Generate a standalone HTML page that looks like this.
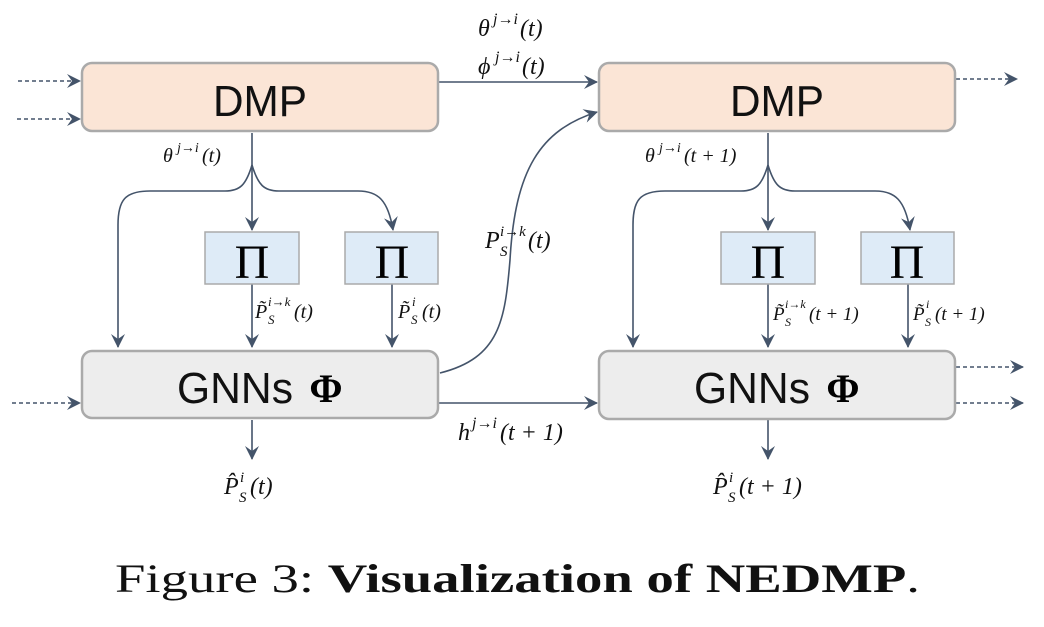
<!DOCTYPE html>
<html><head><meta charset="utf-8"><style>
body{margin:0;background:#fff;}
svg text{font-family:"Liberation Serif",serif;}
.m{font-style:italic;fill:#111;}
.b{font-family:"Liberation Sans",sans-serif !important;font-size:44px;fill:#111;}
</style></head><body>
<svg width="1044" height="622" viewBox="0 0 1044 622" xmlns="http://www.w3.org/2000/svg">
<defs>
<marker id="a" viewBox="0 0 14 14" refX="13" refY="7" markerWidth="14" markerHeight="14" markerUnits="userSpaceOnUse" orient="auto"><path d="M0,0 L14,7 L0,14 L5,7 Z" fill="#44546a"/></marker>
</defs>
<g stroke="#44546a" stroke-width="1.6" fill="none">
<line x1="18" y1="81" x2="80" y2="81" stroke-dasharray="4,3" marker-end="url(#a)"/>
<line x1="17" y1="119" x2="80" y2="119" stroke-dasharray="4,3" marker-end="url(#a)"/>
<line x1="12" y1="403" x2="80" y2="403" stroke-dasharray="4,3" marker-end="url(#a)"/>
<line x1="956" y1="79" x2="1017" y2="79" stroke-dasharray="4,3" marker-end="url(#a)"/>
<line x1="956" y1="367" x2="1023" y2="367" stroke-dasharray="4,3" marker-end="url(#a)"/>
<line x1="956" y1="403" x2="1023" y2="403" stroke-dasharray="4,3" marker-end="url(#a)"/>
<line x1="439" y1="82" x2="597" y2="82" marker-end="url(#a)"/>
<line x1="439" y1="403" x2="597" y2="403" marker-end="url(#a)"/>
<path d="M440,373 C500,358 505,320 510,260 C515,170 540,130 597,112" marker-end="url(#a)"/>
<line x1="252" y1="133" x2="252" y2="230" marker-end="url(#a)"/>
<path d="M252,165 C246,185 240,191 225,191 L150,191 C125,191 118,200 118,225 L118,347" marker-end="url(#a)"/>
<path d="M252,165 C258,185 264,191 279,191 L358,191 C378,191 388,200 393,230" marker-end="url(#a)"/>
<line x1="252" y1="284" x2="252" y2="347" marker-end="url(#a)"/>
<line x1="392" y1="284" x2="392" y2="347" marker-end="url(#a)"/>
<line x1="252" y1="420" x2="252" y2="459" marker-end="url(#a)"/>
<line x1="768" y1="133" x2="768" y2="230" marker-end="url(#a)"/>
<path d="M768,165 C762,185 756,191 741,191 L665,191 C640,191 633,200 633,225 L633,347" marker-end="url(#a)"/>
<path d="M768,165 C774,185 780,191 795,191 L875,191 C895,191 905,200 910,230" marker-end="url(#a)"/>
<line x1="768" y1="284" x2="768" y2="347" marker-end="url(#a)"/>
<line x1="908" y1="284" x2="908" y2="347" marker-end="url(#a)"/>
<line x1="768" y1="420" x2="768" y2="459" marker-end="url(#a)"/>
</g>
<g stroke="#aaa" stroke-width="2.5">
<rect x="82" y="63" width="356" height="68" rx="10" fill="#fbe5d6"/>
<rect x="599" y="63" width="356" height="68" rx="10" fill="#fbe5d6"/>
<rect x="82" y="351" width="356" height="67" rx="10" fill="#ededed"/>
<rect x="599" y="351" width="356" height="68" rx="10" fill="#ededed"/>
</g>
<g stroke="#aaa" stroke-width="1.5" fill="#deebf7">
<rect x="205" y="232" width="94" height="52"/>
<rect x="345" y="232" width="93" height="52"/>
<rect x="721" y="232" width="94" height="52"/>
<rect x="861" y="232" width="93" height="52"/>
</g>
<text class="b" x="213" y="116" textLength="94" lengthAdjust="spacingAndGlyphs">DMP</text>
<text class="b" x="730" y="116" textLength="94" lengthAdjust="spacingAndGlyphs">DMP</text>
<text class="b" x="177" y="403" textLength="116" lengthAdjust="spacingAndGlyphs">GNNs</text>
<text x="326" y="402" text-anchor="middle" font-size="40" font-weight="bold">Φ</text>
<text class="b" x="694" y="403" textLength="116" lengthAdjust="spacingAndGlyphs">GNNs</text>
<text x="843" y="402" text-anchor="middle" font-size="40" font-weight="bold">Φ</text>
<g font-size="48" text-anchor="middle"><text x="252" y="278">Π</text><text x="392" y="278">Π</text><text x="768" y="278">Π</text><text x="907" y="278">Π</text></g>

<g class="m">
<text x="478" y="36" font-size="24">θ</text><text x="493" y="24" font-size="16">j→i</text><text x="520" y="36" font-size="24">(t)</text>
<text x="478" y="74" font-size="24">ϕ</text><text x="495" y="62" font-size="16">j→i</text><text x="522" y="74" font-size="24">(t)</text>
<text x="163" y="162" font-size="20">θ</text><text x="177" y="152" font-size="14">j→i</text><text x="202" y="162" font-size="20">(t)</text>
<text x="645" y="162" font-size="20">θ</text><text x="659" y="152" font-size="14">j→i</text><text x="684" y="162" font-size="20">(t + 1)</text>
<text x="485" y="248" font-size="24">P</text><text x="500" y="256" font-size="15">S</text><text x="500" y="236" font-size="15">i→k</text><text x="528" y="248" font-size="24">(t)</text>
<text x="255" y="318" font-size="20">P̃</text><text x="268" y="324" font-size="13">S</text><text x="268" y="306" font-size="13">i→k</text><text x="294" y="318" font-size="20">(t)</text>
<text x="398" y="318" font-size="20">P̃</text><text x="411" y="324" font-size="13">S</text><text x="412" y="306" font-size="13">i</text><text x="422" y="318" font-size="20">(t)</text>
<text x="773" y="320" font-size="19">P̃</text><text x="785" y="326" font-size="12">S</text><text x="785" y="308" font-size="12">i→k</text><text x="809" y="320" font-size="19">(t + 1)</text>
<text x="913" y="320" font-size="19">P̃</text><text x="925" y="326" font-size="12">S</text><text x="926" y="308" font-size="12">i</text><text x="935" y="320" font-size="19">(t + 1)</text>
<text x="458" y="440" font-size="24">h</text><text x="472" y="428" font-size="16">j→i</text><text x="500" y="440" font-size="24">(t + 1)</text>
<text x="224" y="494" font-size="24">P̂</text><text x="239" y="502" font-size="15">S</text><text x="240" y="482" font-size="15">i</text><text x="250" y="494" font-size="24">(t)</text>
<text x="713" y="494" font-size="24">P̂</text><text x="728" y="502" font-size="15">S</text><text x="729" y="482" font-size="15">i</text><text x="739" y="494" font-size="24">(t + 1)</text>
</g>
<text x="115" y="592" font-size="40" fill="#111" textLength="805" lengthAdjust="spacingAndGlyphs">Figure 3: <tspan font-weight="bold">Visualization of NEDMP</tspan>.</text>
</svg>
</body></html>
